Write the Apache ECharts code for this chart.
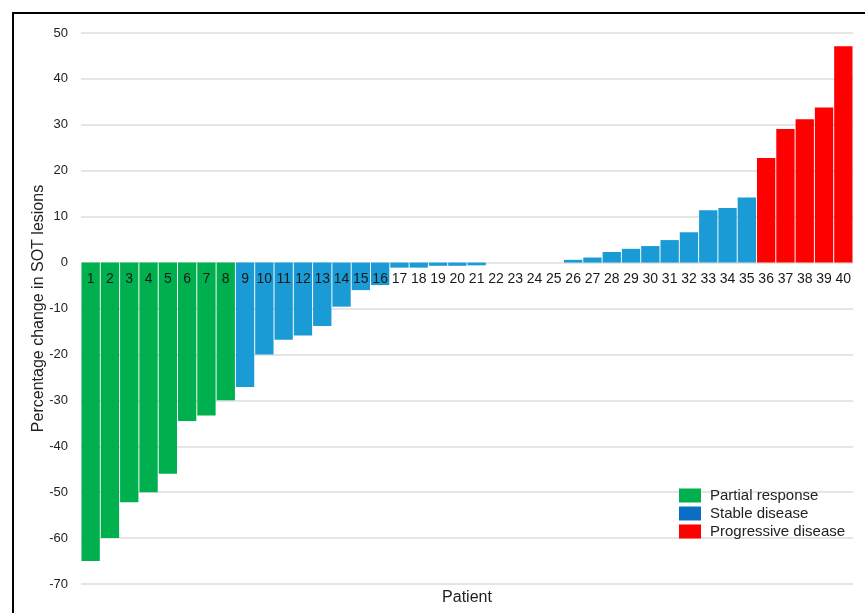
<!DOCTYPE html>
<html>
<head>
<meta charset="utf-8">
<script src="https://cdn.jsdelivr.net/npm/echarts@6/dist/echarts.min.js"></script>
<style>html,body{margin:0;padding:0;background:#fff}#c{width:865px;height:613px}</style>
</head>
<body>
<div id="c"></div>
<script>
// Patient numbers (categories)
var categories = ['1','2','3','4','5','6','7','8','9','10','11','12','13','14','15','16','17','18','19','20',
  '21','22','23','24','25','26','27','28','29','30','31','32','33','34','35','36','37','38','39','40'];
// Percentage change in SOT lesions per patient
var changeValues = [-65, -60, -52.2, -50, -46, -34.5, -33.3, -30, -27.1, -20,
  -16.8, -15.9, -13.8, -9.6, -6, -4.9, -1.1, -1.1, -0.7, -0.7,
  -0.6, 0, 0, 0, 0, 0.6, 1.1, 2.3, 3.0, 3.6,
  4.9, 6.6, 11.4, 11.9, 14.2, 22.8, 29.1, 31.2, 33.8, 47.1];
// Response category of each patient
var responseGroup = ['PR','PR','PR','PR','PR','PR','PR','PR',
  'SD','SD','SD','SD','SD','SD','SD','SD','SD','SD','SD','SD','SD','SD','SD','SD','SD','SD','SD','SD','SD','SD','SD','SD','SD','SD','SD',
  'PD','PD','PD','PD','PD'];
var groupKeys = ['PR','SD','PD'];
var groupNames = ['Partial response','Stable disease','Progressive disease'];
var yTicks = {min: -70, max: 50, interval: 10};

var barColors = {PR: '#00b04f', SD: '#1a9bd6', PD: '#ff0000'};
var legendColors = {PR: '#00b04f', SD: '#0a6fc4', PD: '#ff0000'};

var series = groupKeys.map(function (k, i) {
  return {
    name: groupNames[i],
    type: 'bar',
    barGap: '-100%',
    barCategoryGap: '5%',
    itemStyle: {color: barColors[k]},
    data: changeValues.map(function (v, j) { return responseGroup[j] === k ? v : '-'; })
  };
});

var chart = echarts.init(document.getElementById('c'), null, {renderer: 'canvas'});
chart.setOption({
  backgroundColor: '#fff',
  animation: false,
  textStyle: {fontFamily: 'Liberation Sans, Arial, sans-serif'},
  grid: {left: 81, right: 12, top: 33, bottom: 29, containLabel: false},
  title: {
    text: 'Patient', left: 467, top: 590, textAlign: 'center', padding: 0,
    textStyle: {fontSize: 16, fontWeight: 'normal', color: '#222', fontFamily: 'Liberation Sans, Arial, sans-serif'}
  },
  legend: {
    orient: 'vertical', left: 679, top: 488, padding: 0,
    itemWidth: 22, itemHeight: 14, itemGap: 3,
    icon: 'rect',
    textStyle: {fontSize: 15, color: '#222', padding: [0, 0, 0, 4]},
    data: groupKeys.map(function (k, i) {
      return {name: groupNames[i], itemStyle: {color: legendColors[k]}};
    })
  },
  xAxis: {
    type: 'category',
    data: categories,
    z: 10,
    axisLine: {show: false, onZero: false},
    axisTick: {show: false},
    axisLabel: {fontSize: 14, color: '#1a1a1a', margin: 10, interval: 0}
  },
  yAxis: {
    type: 'value',
    min: yTicks.min, max: yTicks.max, interval: yTicks.interval,
    name: 'Percentage change in SOT lesions',
    nameLocation: 'middle',
    nameGap: 34,
    nameMoveOverlap: false,
    nameTextStyle: {fontSize: 16, color: '#222'},
    axisLine: {show: false},
    axisTick: {show: false},
    axisLabel: {fontSize: 13, color: '#222', margin: 13},
    splitLine: {lineStyle: {color: '#dcdcdc', width: 1.5}}
  },
  graphic: [{
    type: 'polyline',
    shape: {points: [[13, 613], [13, 13], [865, 13]]},
    style: {stroke: '#000', lineWidth: 2, fill: null},
    z: 100
  }],
  series: series
});
// Place the category labels along the zero line, using the library's own y scale.
var zeroPx = chart.convertToPixel({yAxisIndex: 0}, 0);
var bottomPx = chart.convertToPixel({yAxisIndex: 0}, yTicks.min);
chart.setOption({xAxis: {offset: zeroPx - bottomPx}});
</script>
</body>
</html>
